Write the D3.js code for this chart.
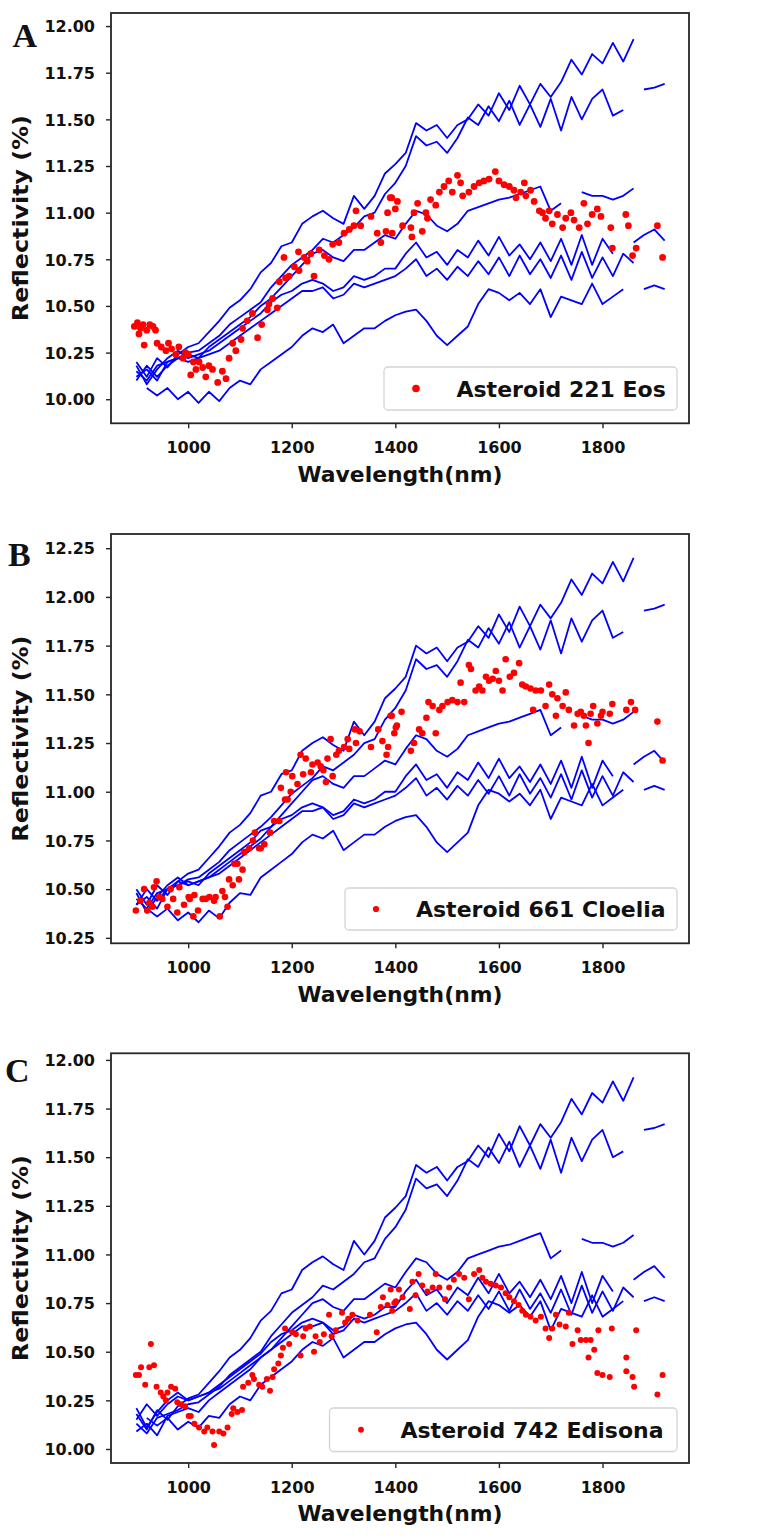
<!DOCTYPE html>
<html>
<head>
<meta charset="utf-8">
<script src="https://cdn.jsdelivr.net/npm/d3@7"></script>
<style>
  body { margin: 0; background: #fff; }
  text { font-family: "DejaVu Sans", sans-serif; font-weight: bold; fill: #111; }
</style>
</head>
<body>
<div class="FIG"></div>
<script>

// wavelength grid of the reference spectra (nm)
var wl = [900, 920, 940, 960, 980, 1000, 1020, 1040, 1060, 1080, 1100, 1120, 1140, 1160, 1180, 1200,
          1220, 1240, 1260, 1280, 1300, 1320, 1340, 1360, 1380, 1400, 1420, 1440, 1460, 1480, 1500,
          1520, 1540, 1560, 1580, 1600, 1620, 1640, 1660, 1680, 1700, 1720, 1740, 1760, 1780, 1800,
          1820, 1840, 1860, 1880, 1900, 1920];

var xTicks = [1000, 1200, 1400, 1600, 1800];
var yTicksA = [10.00, 10.25, 10.50, 10.75, 11.00, 11.25, 11.50, 11.75, 12.00];
var yTicksB = [10.25, 10.50, 10.75, 11.00, 11.25, 11.50, 11.75, 12.00, 12.25];
var yTicksC = [10.00, 10.25, 10.50, 10.75, 11.00, 11.25, 11.50, 11.75, 12.00];

// panel A : reference spectra (blue)
var eosRef = [
 [10.20,10.12,10.22,10.17,10.24,10.28,10.30,10.36,10.42,10.49,10.53,10.59,10.68,10.73,10.82,10.84,10.94,10.98,11.01,10.97,10.94,11.09,11.02,11.09,11.21,11.26,11.32,11.48,11.44,11.47,11.40,11.47,11.50,11.58,11.52,11.64,11.55,11.68,11.58,11.69,11.62,11.70,11.82,11.74,11.85,11.80,11.91,11.81,11.93,null,null,null],
 [10.15,10.10,10.18,10.20,10.22,10.25,10.26,10.30,10.34,10.40,10.44,10.48,10.52,10.60,10.66,10.72,10.76,10.80,10.86,10.84,10.88,10.92,10.98,11.00,11.10,11.16,11.25,11.41,11.36,11.38,11.32,11.40,11.51,11.47,11.57,11.49,11.60,11.47,11.58,11.46,11.61,11.44,11.62,11.50,11.61,11.66,11.52,11.55,null,11.66,11.67,11.69],
 [10.12,10.16,10.10,10.20,10.22,10.24,10.22,10.28,10.32,10.36,10.40,10.44,10.50,10.54,10.60,10.66,10.72,10.78,10.80,10.76,10.74,10.80,10.80,10.84,10.88,10.86,10.94,11.01,10.99,10.93,10.90,10.94,11.01,11.03,11.05,11.07,11.08,11.10,11.12,11.14,11.01,11.05,null,11.11,11.09,11.09,11.07,11.09,11.13,null,null,null],
 [10.18,10.08,10.16,10.22,10.26,10.22,10.24,10.26,10.30,10.34,10.38,10.42,10.46,10.52,10.56,10.58,10.62,10.64,10.62,10.58,10.60,10.66,10.64,10.66,10.70,10.70,10.78,10.84,10.76,10.79,10.72,10.80,10.76,10.85,10.77,10.87,10.77,10.83,10.75,10.84,10.74,10.86,10.72,10.88,10.72,10.86,10.78,null,10.84,10.88,10.91,10.85],
 [10.10,10.18,10.12,10.18,10.22,10.20,10.22,10.24,10.26,10.30,10.34,10.38,10.42,10.46,10.50,10.54,10.58,10.58,10.60,10.54,10.56,10.62,10.60,10.62,10.64,10.66,10.70,10.75,10.66,10.70,10.64,10.71,10.66,10.74,10.67,10.76,10.66,10.77,10.67,10.75,10.65,10.77,10.64,10.79,10.65,10.76,10.66,10.78,10.73,null,null,null],
 [null,10.06,10.02,10.06,10.00,10.04,9.98,10.04,9.99,10.06,10.10,10.08,10.16,10.20,10.24,10.28,10.34,10.38,10.36,10.40,10.30,10.34,10.38,10.38,10.42,10.45,10.47,10.48,10.42,10.34,10.29,10.34,10.39,10.51,10.59,10.57,10.53,10.57,10.51,10.59,10.44,10.55,10.53,10.51,10.62,10.51,10.55,10.59,null,10.59,10.61,10.59]
];

// panel B : reference spectra (blue)
var cloeliaRef = [
 [10.50,10.42,10.52,10.47,10.54,10.58,10.60,10.66,10.72,10.79,10.83,10.89,10.98,11.00,11.09,11.11,11.21,11.25,11.28,11.24,11.21,11.36,11.29,11.36,11.48,11.53,11.59,11.75,11.71,11.74,11.67,11.74,11.77,11.85,11.79,11.91,11.82,11.95,11.85,11.96,11.89,11.97,12.09,12.01,12.12,12.07,12.18,12.08,12.20,null,null,null],
 [10.45,10.40,10.48,10.50,10.52,10.55,10.56,10.60,10.64,10.70,10.74,10.78,10.82,10.87,10.93,10.99,11.03,11.07,11.13,11.11,11.15,11.19,11.25,11.27,11.37,11.43,11.52,11.68,11.63,11.65,11.59,11.67,11.78,11.74,11.84,11.76,11.87,11.74,11.85,11.73,11.88,11.71,11.89,11.77,11.88,11.93,11.79,11.82,null,11.93,11.94,11.96],
 [10.42,10.46,10.40,10.50,10.52,10.54,10.52,10.58,10.62,10.66,10.70,10.74,10.80,10.82,10.88,10.94,11.00,11.06,11.08,11.04,11.02,11.08,11.08,11.12,11.16,11.14,11.22,11.29,11.27,11.21,11.18,11.22,11.29,11.31,11.33,11.35,11.36,11.38,11.40,11.42,11.29,11.33,null,11.39,11.37,11.37,11.35,11.37,11.41,null,null,null],
 [10.48,10.38,10.46,10.52,10.56,10.52,10.54,10.56,10.60,10.64,10.68,10.72,10.76,10.82,10.86,10.88,10.92,10.94,10.92,10.88,10.90,10.96,10.94,10.96,11.00,11.00,11.08,11.14,11.06,11.09,11.02,11.10,11.06,11.15,11.07,11.17,11.07,11.13,11.05,11.14,11.04,11.16,11.02,11.18,11.02,11.16,11.08,null,11.14,11.18,11.21,11.15],
 [10.42,10.50,10.44,10.50,10.54,10.52,10.54,10.56,10.58,10.62,10.66,10.70,10.74,10.78,10.82,10.86,10.90,10.90,10.92,10.86,10.88,10.94,10.92,10.94,10.96,10.98,11.02,11.07,10.98,11.02,10.96,11.03,10.98,11.06,10.99,11.08,10.98,11.09,10.99,11.07,10.97,11.09,10.96,11.11,10.97,11.08,10.98,11.10,11.05,null,null,null],
 [null,10.40,10.36,10.40,10.34,10.38,10.33,10.39,10.35,10.43,10.48,10.47,10.56,10.60,10.64,10.68,10.74,10.78,10.76,10.80,10.70,10.74,10.78,10.78,10.82,10.85,10.87,10.88,10.82,10.74,10.69,10.74,10.79,10.93,11.01,10.99,10.95,10.99,10.93,11.01,10.86,10.97,10.95,10.93,11.04,10.93,10.97,11.01,null,11.01,11.03,11.01]
];

// panel C : reference spectra (blue)
var edisonaRef = [
 [10.18,10.10,10.20,10.15,10.22,10.26,10.28,10.34,10.40,10.47,10.51,10.57,10.66,10.71,10.80,10.82,10.92,10.96,10.99,10.95,10.92,11.07,11.00,11.07,11.19,11.24,11.30,11.46,11.42,11.45,11.38,11.45,11.48,11.56,11.50,11.62,11.53,11.66,11.56,11.67,11.60,11.68,11.80,11.72,11.83,11.78,11.89,11.79,11.91,null,null,null],
 [10.13,10.08,10.16,10.18,10.20,10.23,10.24,10.28,10.32,10.38,10.42,10.46,10.50,10.58,10.64,10.70,10.74,10.78,10.84,10.82,10.86,10.90,10.96,10.98,11.08,11.14,11.23,11.39,11.34,11.36,11.30,11.38,11.49,11.45,11.55,11.47,11.58,11.45,11.56,11.44,11.59,11.42,11.60,11.48,11.59,11.64,11.50,11.53,null,11.64,11.65,11.67],
 [10.09,10.13,10.07,10.17,10.19,10.21,10.19,10.25,10.29,10.33,10.37,10.41,10.47,10.51,10.57,10.63,10.69,10.75,10.77,10.73,10.71,10.77,10.77,10.81,10.85,10.83,10.91,10.98,10.96,10.90,10.87,10.91,10.98,11.00,11.02,11.04,11.05,11.07,11.09,11.11,10.98,11.02,null,11.08,11.06,11.06,11.04,11.06,11.10,null,null,null],
 [10.21,10.11,10.19,10.25,10.29,10.25,10.27,10.29,10.33,10.37,10.41,10.45,10.49,10.55,10.59,10.61,10.65,10.67,10.65,10.61,10.63,10.69,10.67,10.69,10.73,10.73,10.81,10.87,10.79,10.82,10.75,10.83,10.79,10.88,10.80,10.90,10.80,10.86,10.78,10.87,10.77,10.89,10.75,10.91,10.75,10.89,10.81,null,10.87,10.91,10.94,10.88],
 [10.15,10.23,10.17,10.23,10.27,10.25,10.27,10.29,10.31,10.35,10.39,10.43,10.47,10.51,10.55,10.59,10.63,10.63,10.65,10.59,10.61,10.67,10.65,10.67,10.69,10.71,10.75,10.80,10.71,10.75,10.69,10.76,10.71,10.79,10.72,10.81,10.71,10.82,10.72,10.80,10.70,10.82,10.69,10.84,10.70,10.81,10.71,10.83,10.78,null,null,null],
 [null,10.16,10.12,10.16,10.10,10.14,10.11,10.17,10.16,10.23,10.27,10.25,10.33,10.37,10.41,10.45,10.51,10.55,10.53,10.57,10.47,10.51,10.55,10.55,10.59,10.62,10.64,10.65,10.59,10.51,10.46,10.51,10.56,10.68,10.76,10.74,10.70,10.74,10.68,10.76,10.61,10.72,10.70,10.68,10.79,10.68,10.72,10.76,null,10.76,10.78,10.76]
];

// asteroid spectra (red points) [wavelength nm, reflectivity %]
var eosDots = [
 [896,10.39],[902,10.41],[905,10.35],[908,10.38],[913,10.40],[915,10.29],[920,10.37],[926,10.40],[932,10.39],[937,10.37],
 [940,10.30],[948,10.28],[957,10.26],[962,10.30],[968,10.27],[976,10.24],[982,10.28],[990,10.22],[995,10.25],[1000,10.24],
 [1005,10.13],[1010,10.20],[1015,10.16],[1021,10.20],[1028,10.17],[1034,10.12],[1040,10.18],[1047,10.16],[1057,10.09],[1066,10.15],
 [1073,10.11],[1079,10.22],[1086,10.30],[1092,10.26],[1102,10.32],[1105,10.38],[1114,10.42],[1124,10.46],[1134,10.33],[1142,10.40],
 [1153,10.48],[1156,10.51],[1163,10.54],[1172,10.49],[1176,10.63],[1185,10.76],[1188,10.65],[1195,10.66],[1205,10.71],[1213,10.79],
 [1214,10.69],[1224,10.76],[1230,10.74],[1237,10.78],[1243,10.66],[1253,10.80],[1263,10.77],[1272,10.75],[1279,10.83],[1291,10.84],
 [1301,10.89],[1311,10.91],[1320,10.93],[1324,11.01],[1333,10.93],[1353,10.98],[1365,10.89],[1372,10.84],[1382,10.90],[1385,11.00],
 [1390,11.08],[1393,11.08],[1394,10.89],[1400,11.02],[1404,11.06],[1414,10.93],[1430,10.92],[1432,10.87],[1436,11.00],[1443,11.05],
 [1452,10.90],[1459,11.00],[1462,10.97],[1468,11.07],[1478,11.04],[1485,11.11],[1494,11.14],[1503,11.17],[1510,11.11],[1520,11.20],
 [1526,11.16],[1530,11.09],[1542,11.11],[1552,11.14],[1562,11.16],[1571,11.17],[1581,11.18],[1593,11.22],[1600,11.17],[1610,11.15],
 [1620,11.14],[1629,11.12],[1633,11.08],[1642,11.11],[1649,11.16],[1652,11.09],[1661,11.12],[1668,11.06],[1678,11.01],[1684,11.00],
 [1690,10.97],[1697,11.01],[1703,10.94],[1713,10.99],[1723,10.92],[1729,10.97],[1739,11.00],[1745,10.96],[1755,10.92],[1764,11.05],
 [1771,10.94],[1780,10.99],[1790,11.02],[1797,10.98],[1816,10.92],[1819,10.81],[1845,10.99],[1850,10.93],[1858,10.77],[1865,10.81],
 [1906,10.93],[1916,10.76]
];

var cloeliaDots = [
 [899,10.39],[908,10.44],[915,10.50],[921,10.39],[925,10.43],[931,10.41],[934,10.51],[939,10.54],[944,10.46],[950,10.45],
 [960,10.41],[966,10.50],[971,10.45],[979,10.38],[983,10.51],[992,10.42],[1001,10.46],[1003,10.45],[1010,10.36],[1012,10.47],
 [1019,10.39],[1028,10.45],[1034,10.45],[1041,10.46],[1050,10.44],[1053,10.46],[1061,10.36],[1066,10.49],[1071,10.46],[1076,10.41],
 [1079,10.55],[1086,10.52],[1089,10.63],[1095,10.63],[1098,10.55],[1105,10.60],[1108,10.69],[1118,10.71],[1125,10.75],[1129,10.79],
 [1137,10.71],[1140,10.71],[1147,10.73],[1158,10.79],[1166,10.85],[1176,10.85],[1179,11.02],[1187,10.96],[1189,11.10],[1192,10.96],
 [1198,11.00],[1201,11.08],[1211,11.04],[1217,11.19],[1222,11.09],[1227,11.17],[1237,11.10],[1240,11.14],[1250,11.15],[1256,11.13],
 [1261,11.11],[1266,11.05],[1269,11.17],[1275,11.27],[1279,11.08],[1286,11.19],[1291,11.21],[1301,11.23],[1308,11.27],[1311,11.22],
 [1322,11.32],[1324,11.25],[1331,11.31],[1353,11.23],[1367,11.32],[1375,11.26],[1383,11.19],[1386,11.23],[1391,11.39],[1393,11.39],
 [1398,11.30],[1401,11.33],[1403,11.34],[1412,11.41],[1430,11.21],[1436,11.25],[1446,11.32],[1452,11.30],[1460,11.38],[1464,11.46],
 [1472,11.44],[1478,11.30],[1485,11.42],[1491,11.44],[1501,11.46],[1510,11.47],[1520,11.46],[1526,11.56],[1533,11.46],[1542,11.65],
 [1546,11.63],[1555,11.52],[1562,11.54],[1568,11.52],[1575,11.59],[1581,11.57],[1588,11.58],[1594,11.62],[1600,11.57],[1607,11.52],
 [1613,11.68],[1621,11.59],[1629,11.61],[1639,11.66],[1645,11.55],[1652,11.54],[1661,11.53],[1666,11.42],[1671,11.52],[1681,11.52],
 [1690,11.44],[1697,11.55],[1703,11.50],[1710,11.39],[1713,11.48],[1723,11.44],[1729,11.51],[1735,11.42],[1745,11.34],[1752,11.40],
 [1758,11.41],[1764,11.39],[1768,11.34],[1773,11.25],[1777,11.40],[1782,11.44],[1790,11.35],[1797,11.39],[1800,11.41],[1814,11.40],
 [1819,11.45],[1846,11.42],[1855,11.46],[1863,11.42],[1906,11.36],[1916,11.16]
];

var edisonaDots = [
 [899,10.38],[905,10.38],[909,10.42],[917,10.33],[925,10.42],[928,10.54],[934,10.43],[939,10.32],[947,10.29],[952,10.27],
 [957,10.25],[960,10.29],[967,10.32],[975,10.31],[979,10.24],[986,10.23],[994,10.22],[1001,10.17],[1005,10.17],[1012,10.13],
 [1021,10.11],[1031,10.09],[1037,10.11],[1047,10.09],[1050,10.02],[1060,10.09],[1068,10.08],[1076,10.11],[1084,10.18],[1087,10.21],
 [1095,10.19],[1104,10.20],[1106,10.32],[1116,10.34],[1124,10.38],[1127,10.36],[1137,10.33],[1143,10.32],[1152,10.36],[1158,10.30],
 [1163,10.37],[1166,10.41],[1174,10.44],[1179,10.48],[1183,10.52],[1187,10.62],[1195,10.54],[1201,10.60],[1208,10.59],[1217,10.48],
 [1222,10.58],[1227,10.62],[1235,10.63],[1243,10.50],[1246,10.58],[1254,10.55],[1262,10.59],[1272,10.69],[1277,10.58],[1285,10.61],
 [1297,10.70],[1303,10.65],[1309,10.67],[1317,10.69],[1327,10.66],[1351,10.69],[1364,10.60],[1372,10.73],[1376,10.78],[1385,10.74],
 [1391,10.82],[1394,10.71],[1398,10.75],[1401,10.76],[1407,10.82],[1414,10.78],[1428,10.72],[1433,10.86],[1439,10.79],[1445,10.90],
 [1452,10.84],[1462,10.81],[1472,10.83],[1478,10.90],[1485,10.83],[1496,10.77],[1504,10.83],[1513,10.87],[1523,10.90],[1533,10.88],
 [1542,10.77],[1552,10.90],[1562,10.92],[1568,10.88],[1575,10.86],[1584,10.85],[1594,10.84],[1604,10.83],[1613,10.80],[1620,10.78],
 [1629,10.76],[1638,10.74],[1645,10.71],[1652,10.69],[1661,10.68],[1671,10.66],[1681,10.68],[1690,10.62],[1697,10.57],[1703,10.62],
 [1710,10.69],[1717,10.64],[1729,10.63],[1735,10.70],[1742,10.54],[1752,10.61],[1758,10.56],[1768,10.56],[1773,10.47],[1777,10.56],
 [1784,10.51],[1790,10.39],[1792,10.61],[1800,10.38],[1814,10.37],[1818,10.62],[1846,10.47],[1846,10.40],[1858,10.37],[1861,10.32],
 [1865,10.61],[1906,10.28],[1916,10.38]
];

// layout of the three stacked panels
var W = 780, H = 1538;
var left = 111, right = 689;

var panels = [
  { letter: "A", letterX: 12.5, letterY: 46.5, name: "Asteroid 221 Eos", ref: eosRef, dots: eosDots, dotR: 3.4,
    yTicks: yTicksA, yDomain: [9.871, 12.07], top: 13, bottom: 423.3,
    legend: { x: 384, y: 367, w: 293, h: 43, dotX: 416, textX: 456.5, r: 3.8 } },
  { letter: "B", letterX: 8, letterY: 566, name: "Asteroid 661 Cloelia", ref: cloeliaRef, dots: cloeliaDots, dotR: 3.3,
    yTicks: yTicksB, yDomain: [10.222, 12.323], top: 534, bottom: 943.3,
    legend: { x: 345, y: 888, w: 332, h: 42, dotX: 376, textX: 416, r: 3.1 } },
  { letter: "C", letterX: 5, letterY: 1082, name: "Asteroid 742 Edisona", ref: edisonaRef, dots: edisonaDots, dotR: 3.0,
    yTicks: yTicksC, yDomain: [9.928, 12.034], top: 1053.3, bottom: 1463,
    legend: { x: 329.5, y: 1408, w: 347.5, h: 43.5, dotX: 361, textX: 400.5, r: 2.9 } }
];

var svg = d3.select(".FIG").append("svg")
    .attr("width", W)
    .attr("height", H);

var x = d3.scaleLinear().domain([851, 1967]).range([left, right]);

panels.forEach(function(p) {
  var y = d3.scaleLinear().domain(p.yDomain).range([p.bottom, p.top]);
  var g = svg.append("g");

  var line = d3.line()
      .defined(function(d) { return d != null; })
      .x(function(d, i) { return x(wl[i]); })
      .y(function(d) { return y(d); });

  g.selectAll("path.ref")
    .data(p.ref)
    .enter().append("path")
    .attr("class", "ref")
    .attr("d", line)
    .attr("fill", "none")
    .attr("stroke", "#0000ff")
    .attr("stroke-width", 1.8)
    .attr("stroke-linejoin", "round");

  g.selectAll("circle.pt")
    .data(p.dots)
    .enter().append("circle")
    .attr("class", "pt")
    .attr("cx", function(d) { return x(d[0]); })
    .attr("cy", function(d) { return y(d[1]); })
    .attr("r", p.dotR)
    .attr("fill", "#ff0000");

  // frame
  g.append("rect")
    .attr("x", left).attr("y", p.top)
    .attr("width", right - left).attr("height", p.bottom - p.top)
    .attr("fill", "none")
    .attr("stroke", "#262626")
    .attr("stroke-width", 1.8);

  var yAxis = g.append("g")
    .attr("transform", "translate(" + left + ",0)")
    .call(d3.axisLeft(y).tickValues(p.yTicks).tickFormat(d3.format(".2f")).tickSize(5).tickPadding(11));
  yAxis.select(".domain").remove();
  yAxis.selectAll("line").attr("stroke", "#262626").attr("stroke-width", 1.4);
  yAxis.selectAll("text").attr("font-size", 16).attr("font-family", "DejaVu Sans").attr("font-weight", "bold").attr("dy", "0.36em");

  var xAxis = g.append("g")
    .attr("transform", "translate(0," + p.bottom + ")")
    .call(d3.axisBottom(x).tickValues(xTicks).tickFormat(d3.format("d")).tickSize(5));
  xAxis.select(".domain").remove();
  xAxis.selectAll("line").attr("stroke", "#262626").attr("stroke-width", 1.4);
  xAxis.selectAll("text").attr("font-size", 16).attr("font-family", "DejaVu Sans").attr("font-weight", "bold")
    .attr("y", 30).attr("dy", null);

  g.append("text")
    .attr("x", (left + right) / 2)
    .attr("y", p.bottom + 58.4)
    .attr("text-anchor", "middle")
    .attr("font-size", 20.5)
    .attr("textLength", 205)
    .attr("lengthAdjust", "spacingAndGlyphs")
    .text("Wavelength(nm)");

  g.append("text")
    .attr("transform", "translate(28," + ((p.top + p.bottom) / 2) + ") rotate(-90)")
    .attr("text-anchor", "middle")
    .attr("font-size", 20.5)
    .attr("textLength", 206)
    .attr("lengthAdjust", "spacingAndGlyphs")
    .text("Reflectivity (%)");

  g.append("text")
    .attr("x", p.letterX)
    .attr("y", p.letterY)
    .style("font-family", "'Liberation Serif', 'Times New Roman', serif")
    .attr("font-size", 34)
    .text(p.letter);

  // legend
  var L = p.legend;
  g.append("rect")
    .attr("x", L.x).attr("y", L.y)
    .attr("width", L.w).attr("height", L.h)
    .attr("rx", 4)
    .attr("fill", "#fff").attr("fill-opacity", 0.8)
    .attr("stroke", "#d4d4d4").attr("stroke-width", 1.3);
  g.append("circle")
    .attr("cx", L.dotX).attr("cy", L.y + L.h / 2)
    .attr("r", L.r)
    .attr("fill", "#ff0000");
  g.append("text")
    .attr("x", L.textX).attr("y", L.y + L.h / 2 + 8.2)
    .attr("font-size", 22)
    .text(p.name);
});

</script>
</body>
</html>
